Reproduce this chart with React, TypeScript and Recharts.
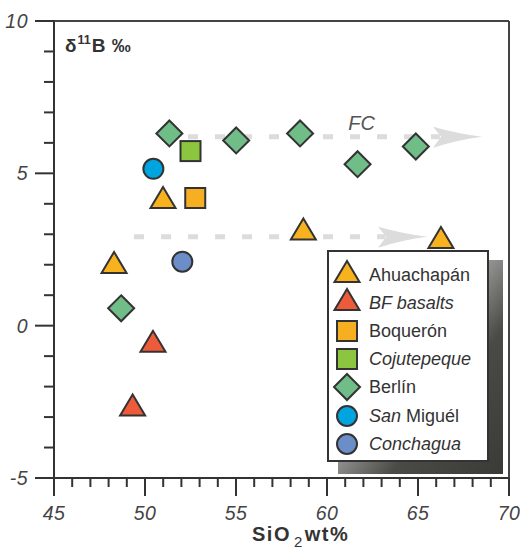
import React from 'react';
import { ScatterChart, Scatter, XAxis, YAxis, ReferenceLine, ReferenceDot, Legend } from 'recharts';

// ---- axis ticks ----
const xTicks = [45, 46, 47, 48, 49, 50, 51, 52, 53, 54, 55, 56, 57, 58, 59, 60, 61, 62, 63, 64, 65, 66, 67, 68, 69, 70];
const yTicks = [-5, -4, -3, -2, -1, 0, 1, 2, 3, 4, 5, 6, 7, 8, 9, 10];
const xMajor = [45, 50, 55, 60, 65, 70];
const yMajor = [-5, 0, 5, 10];

// ---- series (SiO2 wt%, δ11B ‰) ----
const ahuachapanSiO2 = [48.3, 50.99, 58.7, 66.26];
const ahuachapanB = [1.96, 4.09, 3.06, 2.78];
const bfBasaltsSiO2 = [50.44, 49.32];
const bfBasaltsB = [-0.63, -2.72];
const boqueronSiO2 = [52.76];
const boqueronB = [4.19];
const cojutepequeSiO2 = [52.5];
const cojutepequeB = [5.73];
const berlinSiO2 = [51.34, 55.01, 58.52, 61.68, 64.88, 48.69];
const berlinB = [6.31, 6.08, 6.31, 5.3, 5.88, 0.57];
const sanMiguelSiO2 = [50.46];
const sanMiguelB = [5.15];
const conchaguaSiO2 = [52.05];
const conchaguaB = [2.1];

// ---- FC trend arrows ----
const trendStartSiO2 = [50.88, 49.4];
const trendEndSiO2 = [66.2, 63.2];
const trendTipSiO2 = [68.52, 65.5];
const trendB = [6.2, 2.92];
const fcLabelSiO2 = 61.9;
const fcLabelB = 6.66;

const toPoints = (xs: number[], ys: number[]) => xs.map((x, i) => ({ x, y: ys[i] }));

const FONT = '"Liberation Sans", Arial, Helvetica, sans-serif';
const STROKE = '#333';

type ShapeKind = 'triangle' | 'square' | 'diamond' | 'circle';

const drawShape = (kind: ShapeKind, cx: number, cy: number, fill: string) => {
  const common = { fill, stroke: STROKE, strokeWidth: 2, strokeLinejoin: 'miter' as const };
  if (kind === 'triangle') {
    return <polygon {...common} points={`${cx},${cy - 14} ${cx - 12.5},${cy + 7} ${cx + 12.5},${cy + 7}`} />;
  }
  if (kind === 'square') {
    return <rect {...common} x={cx - 10} y={cy - 10} width={20} height={20} />;
  }
  if (kind === 'diamond') {
    return <polygon {...common} points={`${cx},${cy - 13} ${cx + 13},${cy} ${cx},${cy + 13} ${cx - 13},${cy}`} />;
  }
  return <circle {...common} cx={cx} cy={cy} r={10} />;
};

const seriesNames = ['Ahuachapán', 'BF basalts', 'Boquerón', 'Cojutepeque', 'Berlín', 'San Miguél', 'Conchagua'];
const seriesColors = ['#F7B21E', '#EE5B3A', '#F5AF20', '#8CC540', '#70BD88', '#00A5E0', '#6B8DC8'];
const seriesShapes: ShapeKind[] = ['triangle', 'triangle', 'square', 'square', 'diamond', 'circle', 'circle'];
const seriesData = [
  toPoints(ahuachapanSiO2, ahuachapanB),
  toPoints(bfBasaltsSiO2, bfBasaltsB),
  toPoints(boqueronSiO2, boqueronB),
  toPoints(cojutepequeSiO2, cojutepequeB),
  toPoints(berlinSiO2, berlinB),
  toPoints(sanMiguelSiO2, sanMiguelB),
  toPoints(conchaguaSiO2, conchaguaB),
];

const legendLabel = (name: string) => {
  if (name === 'BF basalts' || name === 'Cojutepeque' || name === 'Conchagua') {
    return <span style={{ fontStyle: 'italic' }}>{name}</span>;
  }
  if (name === 'San Miguél') {
    return (
      <span>
        <span style={{ fontStyle: 'italic' }}>San</span> Miguél
      </span>
    );
  }
  return <span>{name}</span>;
};

const XTick = (props: any) => {
  const { x, y, payload } = props;
  const v = payload.value;
  const major = xMajor.includes(v);
  return (
    <g>
      <line x1={x} x2={x} y1={y} y2={y + (major ? 18 : 9)} stroke={STROKE} strokeWidth={2} />
      {major && (
        <text x={x} y={y + 42} textAnchor="middle" fontSize={19.5} fontStyle="italic" fill="#444" fontFamily={FONT} letterSpacing={0.5}>
          {v}
        </text>
      )}
    </g>
  );
};

const YTick = (props: any) => {
  const { x, y, payload } = props;
  const v = payload.value;
  const major = yMajor.includes(v);
  return (
    <g>
      <line x1={x - (major ? 19 : 10)} x2={x} y1={y} y2={y} stroke={STROKE} strokeWidth={2} />
      {major && (
        <text x={x - 26} y={y + 7} textAnchor="end" fontSize={19.5} fontStyle="italic" fill="#444" fontFamily={FONT} letterSpacing={0.5}>
          {v}
        </text>
      )}
    </g>
  );
};

const ArrowHead = (props: any) => {
  const { cx, cy } = props;
  const d = `M ${cx} ${cy} Q ${cx - 24} ${cy - 3} ${cx - 49} ${cy - 10} L ${cx - 41} ${cy} L ${cx - 49} ${cy + 11} Q ${cx - 24} ${cy + 3} ${cx} ${cy} Z`;
  return <path d={d} fill="#DCDCDC" stroke="none" />;
};

const LegendBox = () => (
  <div style={{ position: 'relative', width: 178, height: 226, fontFamily: FONT }}>
    <div
      style={{
        position: 'absolute',
        left: 11,
        top: 10,
        width: 165,
        height: 214,
        background: 'linear-gradient(to bottom right, #e8e8e8 0%, #aaaaaa 40%, #4a4a46 66%, #3a3a36 100%)',
      }}
    />
    <div
      style={{
        position: 'absolute',
        left: 0,
        top: 0,
        width: 162,
        height: 212,
        boxSizing: 'border-box',
        border: `2px solid ${STROKE}`,
        background: '#fff',
      }}
    >
      {seriesNames.map((name, i) => {
        const cy = 22.5 + i * 28.2;
        return (
          <div key={name}>
            <svg
              width={32}
              height={32}
              style={{ position: 'absolute', left: 18 - 16, top: cy - 16, overflow: 'visible' }}
            >
              {drawShape(seriesShapes[i], 16, 16, seriesColors[i])}
            </svg>
            <div
              style={{
                position: 'absolute',
                left: 40,
                top: cy - 12,
                height: 24,
                lineHeight: '24px',
                fontSize: 18,
                color: '#333',
                whiteSpace: 'nowrap',
              }}
            >
              {legendLabel(name)}
            </div>
          </div>
        );
      })}
    </div>
  </div>
);

const YLabel = (props: any) => {
  const vb = props.viewBox || { x: 0, y: 21, width: 54, height: 457 };
  const x = vb.x + vb.width + 11;
  const y = vb.y + 31;
  return (
    <text x={x} y={y} fontFamily={FONT} fontWeight="bold" fontSize={19} fill="#333">
      <tspan>δ</tspan>
      <tspan fontSize={12.5} dy={-8} dx={1}>11</tspan>
      <tspan dy={8} dx={1}>B</tspan>
      <tspan dx={1}> ‰</tspan>
    </text>
  );
};

const XLabel = (props: any) => {
  const vb = props.viewBox || { x: 54, y: 478, width: 455, height: 72 };
  const x = vb.x + 198;
  const y = vb.y + 63;
  return (
    <text x={x} y={y} fontFamily={FONT} fontWeight="bold" fontSize={20} fill="#333" letterSpacing={1.5}>
      <tspan>SiO</tspan>
      <tspan fontSize={15} fontWeight="normal" dy={6} dx={3}>2</tspan>
      <tspan dy={-6} dx={1}>wt%</tspan>
    </text>
  );
};

const FCLabel = (props: any) => {
  const vb = props.viewBox || { x: 0, y: 0 };
  return (
    <text x={vb.x} y={vb.y + 7} textAnchor="middle" fontFamily={FONT} fontStyle="italic" fontSize={20} fill="#555">
      FC
    </text>
  );
};

export default function App() {
  const arrowTips = trendTipSiO2.map((x, i) => ({ x, y: trendB[i] }));
  return (
    <div style={{ position: 'absolute', left: 0, top: 0, width: 520, height: 550, background: '#fff' }}>
      <ScatterChart width={520} height={550} margin={{ top: 21, right: 11, bottom: 0, left: 0 }}>
        <XAxis
          type="number"
          dataKey="x"
          domain={[45, 70]}
          ticks={xTicks}
          interval={0}
          height={72}
          tickSize={0}
          tickMargin={0}
          tickLine={false}
          axisLine={{ stroke: STROKE, strokeWidth: 2 }}
          tick={<XTick />}
          label={{ content: (p: any) => <XLabel {...p} /> }}
        />
        <YAxis
          type="number"
          dataKey="y"
          domain={[-5, 10]}
          ticks={yTicks}
          interval={0}
          width={54}
          tickSize={0}
          tickMargin={0}
          tickLine={false}
          axisLine={{ stroke: STROKE, strokeWidth: 2 }}
          tick={<YTick />}
          label={{ content: (p: any) => <YLabel {...p} /> }}
        />
        <ReferenceLine y={10} stroke="#444" strokeWidth={2} />
        <ReferenceLine x={70} stroke="#444" strokeWidth={2} />
        {trendB.map((b, i) => (
          <ReferenceLine
            key={`trend-${i}`}
            segment={[
              { x: trendStartSiO2[i], y: b },
              { x: trendEndSiO2[i], y: b },
            ]}
            stroke="#DCDCDC"
            strokeWidth={5}
            strokeDasharray="10 17"
          />
        ))}
        <ReferenceDot x={fcLabelSiO2} y={fcLabelB} r={0} fill="none" stroke="none" label={{ content: (p: any) => <FCLabel {...p} /> }} />
        <Scatter
          name="arrows"
          data={arrowTips}
          shape={<ArrowHead />}
          legendType="none"
          isAnimationActive={false}
        />
        {seriesNames.map((name, i) => (
          <Scatter
            key={name}
            name={name}
            data={seriesData[i]}
            fill={seriesColors[i]}
            shape={(p: any) => drawShape(seriesShapes[i], p.cx, p.cy, seriesColors[i])}
            isAnimationActive={false}
          />
        ))}
        <Legend
          layout="horizontal"
          verticalAlign="middle"
          align="center"
          content={() => <LegendBox />}
          wrapperStyle={{ position: 'absolute', left: 327, top: 250, width: 178, height: 226 }}
        />
      </ScatterChart>
    </div>
  );
}
